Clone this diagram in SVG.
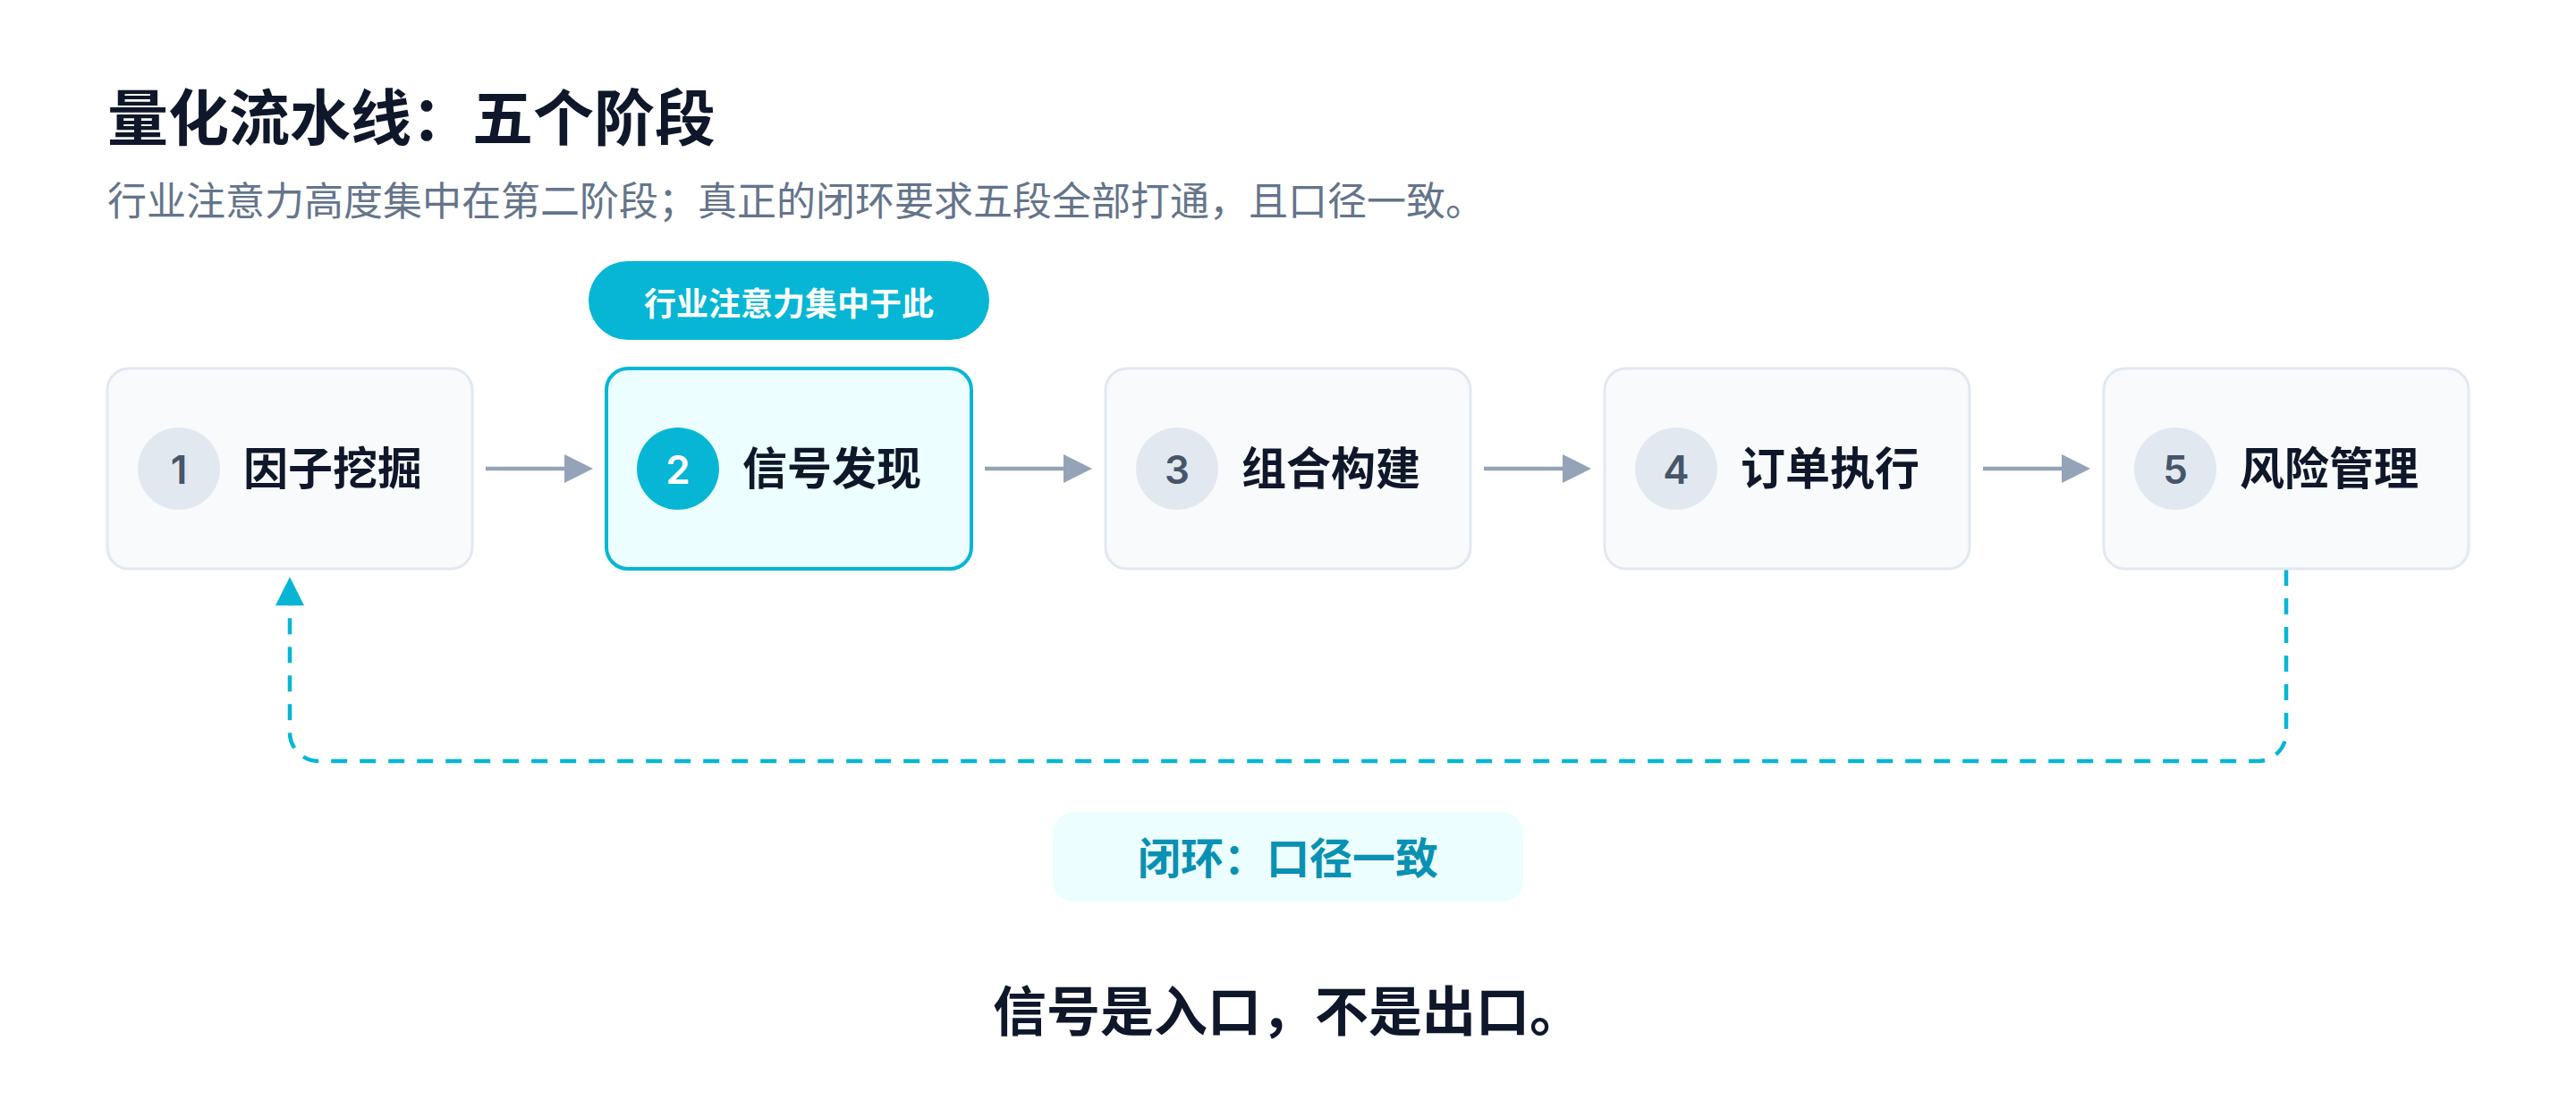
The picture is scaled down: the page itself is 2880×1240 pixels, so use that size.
<svg xmlns="http://www.w3.org/2000/svg" width="2880" height="1240" viewBox="0 0 2880 1240">
  <style>
    .cjk { font-family: "Noto Sans CJK SC", "Noto Sans", sans-serif; }
    .title { font-size: 68px; font-weight: 700; fill: #0f172a; }
    .sub { font-size: 44px; font-weight: 400; fill: #64748b; }
    .box { fill: #f8fafc; stroke: #e2e8f0; stroke-width: 3; }
    .box-hi { fill: #ecfeff; stroke: #06b6d4; stroke-width: 4; }
    .badge { fill: #e2e8f0; }
    .badge-hi { fill: #06b6d4; }
    .num { font-family: Inter, "Noto Sans", sans-serif; font-size: 44px; font-weight: 600; fill: #475569; text-anchor: middle; }
    .num-hi { fill: #ffffff; }
    .label { font-size: 50px; font-weight: 700; fill: #0f172a; }
    .flow { stroke: #94a3b8; stroke-width: 4.5; fill: none; }
    .loop { stroke: #06b6d4; stroke-width: 4.5; fill: none; stroke-dasharray: 18 14; }
    .pill { fill: #06b6d4; }
    .pill-text { font-size: 36px; font-weight: 700; fill: #ffffff; text-anchor: middle; }
    .note { fill: #ecfeff; }
    .note-text { font-size: 48px; font-weight: 700; fill: #0891b2; text-anchor: middle; }
    .footer { font-size: 60px; font-weight: 700; fill: #0f172a; text-anchor: middle; }
  </style>
  <defs>
    <marker id="arrowGray" markerUnits="userSpaceOnUse" viewBox="0 0 32 32" refX="16" refY="16" markerWidth="32" markerHeight="32" orient="auto">
      <path d="M0,0 L32,16 L0,32 Z" fill="#94a3b8"/>
    </marker>
    <marker id="arrowCyan" markerUnits="userSpaceOnUse" viewBox="0 0 32 32" refX="16" refY="16" markerWidth="32" markerHeight="32" orient="auto">
      <path d="M0,0 L32,16 L0,32 Z" fill="#06b6d4"/>
    </marker>
  </defs>

  <g id="header">
    <text class="cjk title" x="120" y="157">量化流水线：五个阶段</text>
    <text class="cjk sub" x="120" y="241">行业注意力高度集中在第二阶段；真正的闭环要求五段全部打通，且口径一致。</text>
  </g>

  <g id="callout-top">
    <rect class="pill" x="658" y="292" width="448" height="88" rx="44"/>
    <text class="cjk pill-text" x="882" y="353">行业注意力集中于此</text>
  </g>

  <g id="connectors">
    <line class="flow" x1="543" y1="524" x2="647" y2="524" marker-end="url(#arrowGray)"/>
    <line class="flow" x1="1101" y1="524" x2="1205" y2="524" marker-end="url(#arrowGray)"/>
    <line class="flow" x1="1659" y1="524" x2="1763" y2="524" marker-end="url(#arrowGray)"/>
    <line class="flow" x1="2217" y1="524" x2="2321" y2="524" marker-end="url(#arrowGray)"/>
    <path class="loop" d="M2556,637 V819 A32,32 0 0 1 2524,851 H356 A32,32 0 0 1 324,819 V661" marker-end="url(#arrowCyan)"/>
  </g>

  <g id="node-1">
    <rect class="box" x="120" y="412" width="408" height="224" rx="24"/>
    <circle class="badge" cx="200" cy="524" r="46"/>
    <text class="num" x="200" y="541">1</text>
    <text class="cjk label" x="272" y="542">因子挖掘</text>
  </g>
  <g id="node-2">
    <rect class="box-hi" x="678" y="412" width="408" height="224" rx="24"/>
    <circle class="badge-hi" cx="758" cy="524" r="46"/>
    <text class="num num-hi" x="758" y="541">2</text>
    <text class="cjk label" x="830" y="542">信号发现</text>
  </g>
  <g id="node-3">
    <rect class="box" x="1236" y="412" width="408" height="224" rx="24"/>
    <circle class="badge" cx="1316" cy="524" r="46"/>
    <text class="num" x="1316" y="541">3</text>
    <text class="cjk label" x="1388" y="542">组合构建</text>
  </g>
  <g id="node-4">
    <rect class="box" x="1794" y="412" width="408" height="224" rx="24"/>
    <circle class="badge" cx="1874" cy="524" r="46"/>
    <text class="num" x="1874" y="541">4</text>
    <text class="cjk label" x="1946" y="542">订单执行</text>
  </g>
  <g id="node-5">
    <rect class="box" x="2352" y="412" width="408" height="224" rx="24"/>
    <circle class="badge" cx="2432" cy="524" r="46"/>
    <text class="num" x="2432" y="541">5</text>
    <text class="cjk label" x="2504" y="542">风险管理</text>
  </g>

  <g id="callout-loop">
    <rect class="note" x="1177" y="908" width="526" height="100" rx="24"/>
    <text class="cjk note-text" x="1440" y="977">闭环：口径一致</text>
  </g>

  <g id="footer">
    <text class="cjk footer" x="1440" y="1153">信号是入口，不是出口。</text>
  </g>
</svg>
